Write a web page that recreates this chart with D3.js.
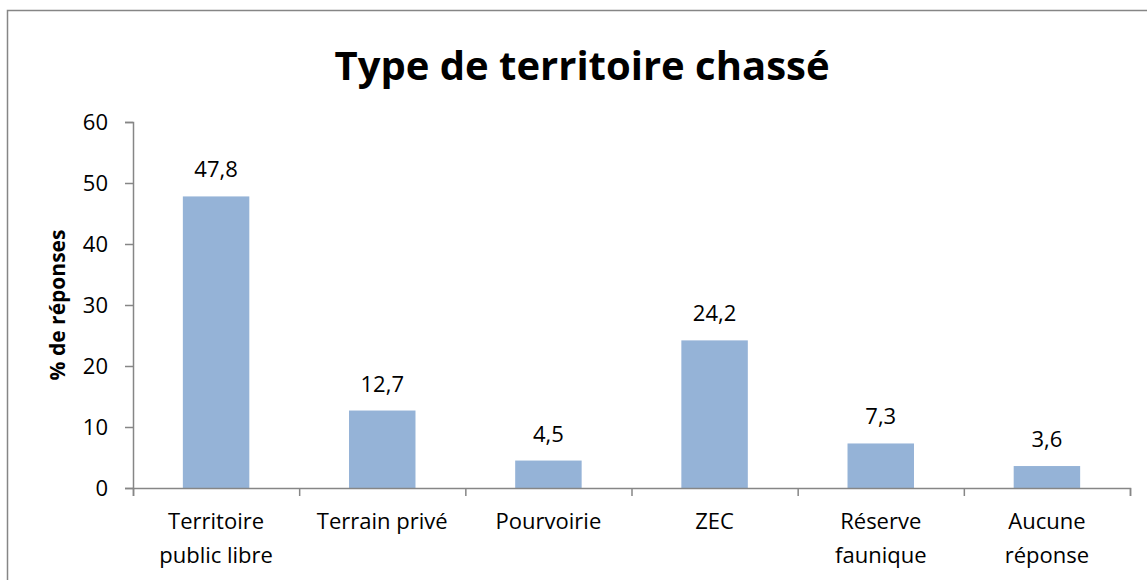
<!DOCTYPE html>
<html>
<head>
<meta charset="utf-8">
<script src="https://cdn.jsdelivr.net/npm/d3@7"></script>
<style>
  body { margin: 0; background: #fff; }
  svg text { font-family: "Open Sans", "Liberation Sans", sans-serif; fill: #000; }
</style>
</head>
<body>
<svg id="chart" width="1147" height="580"></svg>
<script>
var categories = [["Territoire", "public libre"], ["Terrain privé"], ["Pourvoirie"], ["ZEC"], ["Réserve", "faunique"], ["Aucune", "réponse"]];
var values = [47.8, 12.7, 4.5, 24.2, 7.3, 3.6];
var yTicks = [0, 10, 20, 30, 40, 50, 60];

var svg = d3.select("#chart");
var margin = {top: 122, right: 17, bottom: 92, left: 133};
var width = 1147 - margin.left - margin.right;
var height = 580 - margin.top - margin.bottom;

// outer frame
svg.append("rect")
    .attr("x", 7.5).attr("y", 10.5)
    .attr("width", 1150).attr("height", 600)
    .attr("fill", "none").attr("stroke", "#868686").attr("stroke-width", 1.5);

svg.append("text")
    .attr("x", 582).attr("y", 80)
    .attr("text-anchor", "middle")
    .style("font-size", "40px").style("font-weight", "bold")
    .text("Type de territoire chassé");

var root = svg.append("g")
    .attr("transform", "translate(" + margin.left + "," + margin.top + ")");

var x = d3.scaleBand().domain(d3.range(values.length)).range([0, width]).paddingInner(0.6).paddingOuter(0.3);
var xb = d3.scaleLinear().domain([0, values.length]).range([0, width]);
var y = d3.scaleLinear().domain([0, 60]).range([height, 0]);

root.selectAll(".bar")
    .data(values)
    .enter()
    .append("rect")
    .attr("class", "bar")
    .attr("x", function (d, i) { return x(i); })
    .attr("width", x.bandwidth())
    .attr("y", function (d) { return y(d); })
    .attr("height", function (d) { return height - y(d); })
    .attr("fill", "#95b3d7");

root.selectAll(".val")
    .data(values)
    .enter()
    .append("text")
    .attr("class", "val")
    .attr("x", function (d, i) { return x(i) + x.bandwidth() / 2; })
    .attr("y", function (d) { return y(d) - 19; })
    .attr("text-anchor", "middle")
    .style("font-size", "22px")
    .text(function (d) { return d3.format(".1f")(d).replace(".", ","); });

// Y axis
var yAxis = root.append("g")
    .call(d3.axisLeft(y).tickValues(yTicks).tickSize(8).tickPadding(17));
yAxis.selectAll("path, line").attr("stroke", "#868686").attr("stroke-width", 1.5);
yAxis.selectAll("text").style("font-size", "22px").style("font-family", "'Open Sans', sans-serif");

// X axis (boundary ticks)
var xAxis = root.append("g")
    .attr("transform", "translate(0," + height + ")")
    .call(d3.axisBottom(xb).tickValues(d3.range(values.length + 1)).tickSize(8).tickFormat(""));
xAxis.selectAll("path, line").attr("stroke", "#868686").attr("stroke-width", 1.5);

root.selectAll(".cat")
    .data(categories)
    .enter()
    .append("text")
    .attr("class", "cat")
    .attr("text-anchor", "middle")
    .attr("transform", function (d, i) { return "translate(" + (x(i) + x.bandwidth() / 2) + "," + (height + 41) + ")"; })
    .style("font-size", "22px")
    .selectAll("tspan")
    .data(function (d) { return d; })
    .enter()
    .append("tspan")
    .attr("x", 0)
    .attr("dy", function (d, i) { return i === 0 ? 0 : 34; })
    .text(function (d) { return d; });

svg.append("text")
    .attr("transform", "translate(65," + (margin.top + height / 2) + ") rotate(-90)")
    .attr("text-anchor", "middle")
    .style("font-size", "21px").style("font-weight", "bold")
    .text("% de réponses");
</script>
</body>
</html>
